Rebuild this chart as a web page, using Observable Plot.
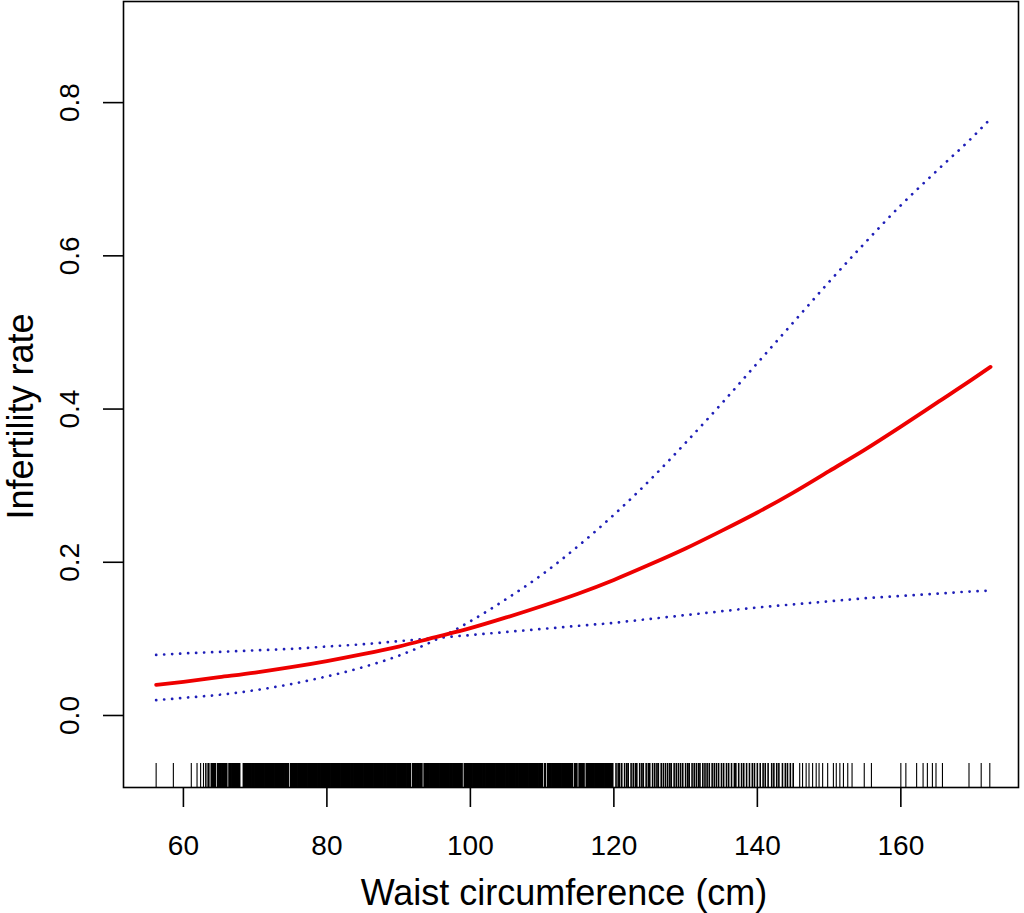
<!DOCTYPE html>
<html><head><meta charset="utf-8">
<script src="https://cdn.jsdelivr.net/npm/d3@7"></script>
<script src="https://cdn.jsdelivr.net/npm/@observablehq/plot@0.6"></script>
<style>body{margin:0;background:#fff}</style>
</head><body><div id="chart"></div>
<script>
// Waist circumference grid (cm)
const waist   = [56.2, 60, 65, 70, 75, 80, 85, 90, 95, 100, 105, 110, 115, 120, 125, 130, 135, 140, 145, 150, 155, 160, 165, 170, 172.5];
// Fitted infertility rate (red solid)
const rateFit = [0.040, 0.044, 0.050, 0.056, 0.063, 0.071, 0.080, 0.090, 0.102, 0.114, 0.128, 0.143, 0.159, 0.177, 0.197, 0.218, 0.241, 0.265, 0.291, 0.319, 0.347, 0.377, 0.408, 0.439, 0.455];
// Confidence band lines (blue dotted)
const bandFlat  = [0.079, 0.081, 0.083, 0.085, 0.087, 0.090, 0.093, 0.097, 0.101, 0.105, 0.109, 0.113, 0.117, 0.121, 0.126, 0.131, 0.136, 0.141, 0.145, 0.149, 0.153, 0.156, 0.159, 0.162, 0.163];
const bandSteep = [0.020, 0.023, 0.027, 0.033, 0.041, 0.051, 0.063, 0.078, 0.098, 0.123, 0.152, 0.184, 0.221, 0.262, 0.307, 0.356, 0.407, 0.460, 0.513, 0.566, 0.617, 0.666, 0.711, 0.755, 0.779];

const xTicks = [60, 80, 100, 120, 140, 160];
const yTicks = [0, 0.2, 0.4, 0.6, 0.8];
const xLabel = "Waist circumference (cm)";
const yLabel = "Infertility rate";

// Rug of observed waist values
const rugSparseLow = [56.2, 58.6, 61.1, 61.9, 62.4, 62.8, 63.1, 63.3, 63.5, 63.7];
const rugDense = [
  64.0, 64.2, 64.4, 64.8,
  65.0, 65.2, 65.4, 65.6, 65.8,
  66.0, 66.4, 66.6, 66.8,
  67.0, 67.2, 67.4, 67.6, 67.8,
  68.4, 68.6, 68.8,
  69.0, 69.2, 69.4, 69.6, 69.8,
  70.0, 70.2, 70.4, 70.6, 70.8,
  71.0, 71.2, 71.4, 71.6, 71.8,
  72.0, 72.2, 72.4, 72.6, 72.8,
  73.0, 73.2, 73.4, 73.6, 73.8,
  74.0, 74.2, 74.4, 74.6,
  75.0, 75.2, 75.4, 75.6, 75.8,
  76.0, 76.2, 76.4, 76.6, 76.8,
  77.0, 77.2, 77.4, 77.6, 77.8,
  78.0, 78.2, 78.4, 78.6, 78.8,
  79.0, 79.2, 79.4, 79.6, 79.8,
  80.0, 80.2, 80.4, 80.6, 80.8,
  81.0, 81.2, 81.4, 81.6, 81.8,
  82.0, 82.2, 82.4, 82.6, 82.8,
  83.0, 83.2, 83.4, 83.6, 83.8,
  84.0, 84.2, 84.4, 84.6, 84.8,
  85.0, 85.2, 85.4, 85.6, 85.8,
  86.0, 86.2, 86.4, 86.6, 86.8,
  87.0, 87.2, 87.4, 87.6, 87.8,
  88.0, 88.2, 88.4, 88.6, 88.8,
  89.0, 89.2, 89.4, 89.6, 89.8,
  90.0, 90.2, 90.4, 90.6, 90.8,
  91.0, 91.2, 91.4, 91.6,
  92.0, 92.2, 92.4, 92.6, 92.8,
  93.0, 93.2, 93.6, 93.8,
  94.0, 94.2, 94.4, 94.6, 94.8,
  95.0, 95.2, 95.4, 95.6, 95.8,
  96.0, 96.2, 96.4, 96.6, 96.8,
  97.0, 97.2, 97.4, 97.6, 97.8,
  98.0, 98.2, 98.4, 98.6, 98.8,
  99.2, 99.4, 99.6, 99.8,
  100.0, 100.2, 100.4, 100.6, 100.8,
  101.0, 101.2, 101.4, 101.6, 101.8,
  102.0, 102.2, 102.4, 102.6, 102.8,
  103.0, 103.2, 103.4, 103.6, 103.8,
  104.0, 104.2, 104.4, 104.6, 104.8,
  105.0, 105.2, 105.4, 105.6, 105.8,
  106.0, 106.2, 106.4, 106.6, 106.8,
  107.0, 107.2, 107.4, 107.6, 107.8,
  108.0, 108.2, 108.4, 108.6, 108.8,
  109.0, 109.2, 109.4, 109.6, 109.8,
  110.0, 110.4, 110.8,
  111.0, 111.2, 111.4, 111.6, 111.8,
  112.0, 112.2, 112.4, 112.6, 112.8,
  113.0, 113.2, 113.4, 113.6, 113.8,
  114.0, 114.2, 114.6, 114.8,
  115.2, 115.4, 115.6, 115.8,
  116.2, 116.4, 116.6, 116.8,
  117.0, 117.2, 117.4, 117.6, 117.8,
  118.0, 118.2, 118.4, 118.6, 118.8,
  119.0, 119.2, 119.4, 119.6, 119.8
];
const rugStriped = [
  120.3, 120.6, 120.8, 121.1, 121.5, 121.8, 122.0, 122.4, 122.7, 123.0, 123.2, 123.6, 123.9, 124.1, 124.5,
  124.8, 125.0, 125.4, 125.7, 126.0, 126.2, 126.6, 126.9, 127.2, 127.5, 127.8, 128.0, 128.4, 128.7, 129.0,
  129.3, 129.6, 130.0, 130.3, 130.5, 130.9, 131.2, 131.5, 131.8, 132.0, 132.4, 132.7, 133.0, 133.3, 133.7,
  134.0, 134.3, 134.6, 135.0, 135.3, 135.7, 136.0, 136.4, 136.8, 137.0, 137.4, 137.8, 138.1, 138.5, 138.9,
  139.3, 139.6, 140.0, 140.4, 140.8, 141.1, 141.5, 142.0, 142.3, 142.7, 143.0, 143.5, 143.9, 144.2, 144.6, 145.0
];
const rugSparseHigh = [
  145.9, 146.3, 146.8, 147.2, 147.7, 148.2, 148.6, 149.1, 149.8, 150.6, 151.0, 151.5, 152.0, 152.6, 153.2,
  154.9, 155.9, 160.0, 160.7, 162.2, 163.1, 163.7, 164.4, 164.9, 165.8, 169.5, 171.2, 172.4
];

const rows = waist.map((w, i) => ({w, fit: rateFit[i], flat: bandFlat[i], steep: bandSteep[i]}));
const rugThin = [...rugSparseLow, ...rugSparseHigh];

const font = "'Liberation Sans', Arial, Helvetica, sans-serif";
const blue = "#1f1fb8";
const dotted = {stroke: blue, strokeWidth: 2.7, strokeDasharray: "0.1 7.9", strokeLinecap: "round", curve: "monotone-x"};

const chart = Plot.plot({
  width: 1024, height: 913,
  marginTop: 1, marginRight: 6, marginBottom: 126, marginLeft: 123,
  style: {fontFamily: font, background: "#fff", color: "#000", overflow: "visible"},
  x: {domain: [51.65, 176.4], label: null},
  y: {domain: [-0.094, 0.932], label: null},
  marks: [
    Plot.tickX(rugDense, {x: d => d, insetTop: 762, stroke: "#000", strokeWidth: 2.2}),
    Plot.tickX(rugStriped, {x: d => d, insetTop: 762, stroke: "#000", strokeWidth: 1.6}),
    Plot.tickX(rugThin, {x: d => d, insetTop: 762, stroke: "#000", strokeWidth: 1.1}),
    Plot.line(rows, {x: "w", y: "flat", ...dotted}),
    Plot.line(rows, {x: "w", y: "steep", ...dotted}),
    Plot.line(rows, {x: "w", y: "fit", stroke: "#ee0000", strokeWidth: 3.8, curve: "monotone-x"}),
    Plot.frame({stroke: "#000", strokeWidth: 1.6}),
    Plot.axisX({ticks: xTicks, tickSize: 20, tickPadding: 28, fontSize: 28, label: null, strokeWidth: 1.6}),
    Plot.axisY({ticks: yTicks, tickSize: 20, tickFormat: () => "", label: null, strokeWidth: 1.6}),
    Plot.text(yTicks, {y: d => d, text: d => d3.format(".1f")(d), frameAnchor: "left", rotate: -90, dx: -45,
      textAnchor: "middle", lineAnchor: "bottom", fontSize: 28, fill: "#000"}),
    Plot.text([xLabel], {frameAnchor: "bottom", dx: -7, dy: 117, lineAnchor: "bottom", fontSize: 36, fill: "#000"}),
    Plot.text([yLabel], {frameAnchor: "left", dx: -91, dy: 22, rotate: -90, textAnchor: "middle", lineAnchor: "bottom", fontSize: 36, fill: "#000"})
  ]
});
document.getElementById("chart").append(chart);
</script>
</body></html>
